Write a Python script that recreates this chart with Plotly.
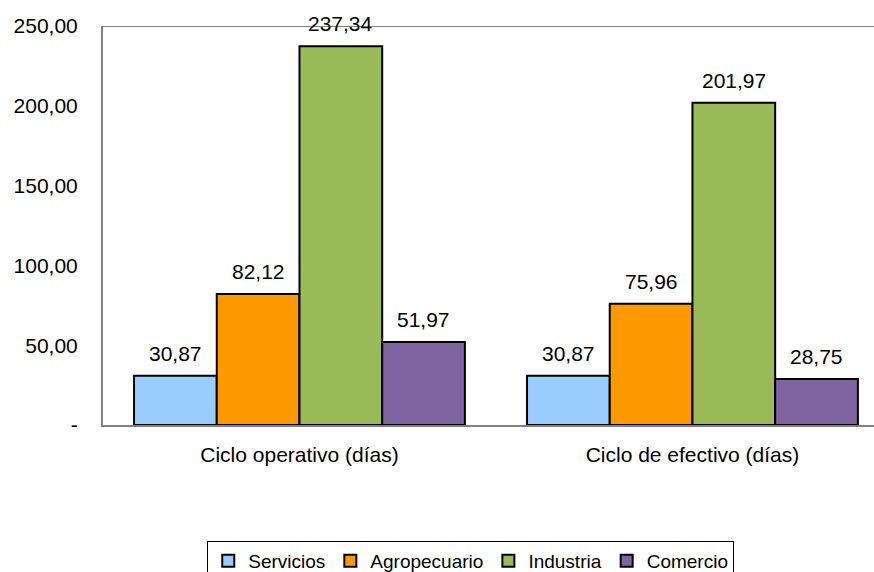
import plotly.graph_objects as go

categories = ["Ciclo operativo (días)", "Ciclo de efectivo (días)"]
series_names = ["Servicios", "Agropecuario", "Industria", "Comercio"]
servicios = [30.87, 30.87]
agropecuario = [82.12, 75.96]
industria = [237.34, 201.97]
comercio = [51.97, 28.75]
colors = ["#99CCFF", "#FF9900", "#9BBB59", "#8064A2"]
tick_values = [0, 50, 100, 150, 200, 250]
tick_labels = ["-", "50,00", "100,00", "150,00", "200,00", "250,00"]

series_values = [servicios, agropecuario, industria, comercio]
font = "Liberation Sans, Arial, sans-serif"

fig = go.Figure()
for name, vals, col in zip(series_names, series_values, colors):
    fig.add_trace(go.Bar(
        x=categories, y=vals, name=name,
        marker=dict(color=col, line=dict(color="black", width=2)),
    ))

# value labels above each bar
bargap = 0.158
group_w = 1 - bargap
bar_w = group_w / len(series_names)
for si, vals in enumerate(series_values):
    offset = -group_w / 2 + bar_w * (si + 0.5)
    for ci, v in enumerate(vals):
        fig.add_annotation(
            x=ci + offset, y=v, xref="x", yref="y",
            text=f"{v:.2f}".replace(".", ","), showarrow=False,
            yanchor="bottom", yshift=9,
            font=dict(family=font, size=21, color="black"),
        )

# top frame line
fig.add_shape(type="line", xref="paper", yref="y", x0=0, x1=1, y0=250, y1=250,
              line=dict(color="#808080", width=2), layer="below")

fig.update_layout(
    width=874, height=572,
    margin=dict(l=103, r=0, t=26, b=147, autoexpand=False),
    paper_bgcolor="white", plot_bgcolor="white",
    barmode="group", bargap=bargap, bargroupgap=0,
    font=dict(family=font, size=21, color="black"),
    showlegend=True,
    legend=dict(
        orientation="h", x=0.477, xanchor="center",
        yref="container", y=31 / 572, yanchor="top",
        bordercolor="black", borderwidth=1, font=dict(family=font, size=19),
        itemwidth=30, tracegroupgap=0,
    ),
    xaxis=dict(
        type="category", range=[-0.5, 1.462],
        showline=True, linecolor="#808080", linewidth=2,
        ticks="", showgrid=False, ticklabelstandoff=10,
        tickfont=dict(family=font, size=21),
    ),
    yaxis=dict(
        range=[0, 250], tickvals=tick_values, ticktext=tick_labels,
        showline=True, linecolor="#808080", linewidth=2,
        ticks="", showgrid=False, ticklabelstandoff=19,
        tickfont=dict(family=font, size=21),
    ),
)

fig.write_html("out.html")
